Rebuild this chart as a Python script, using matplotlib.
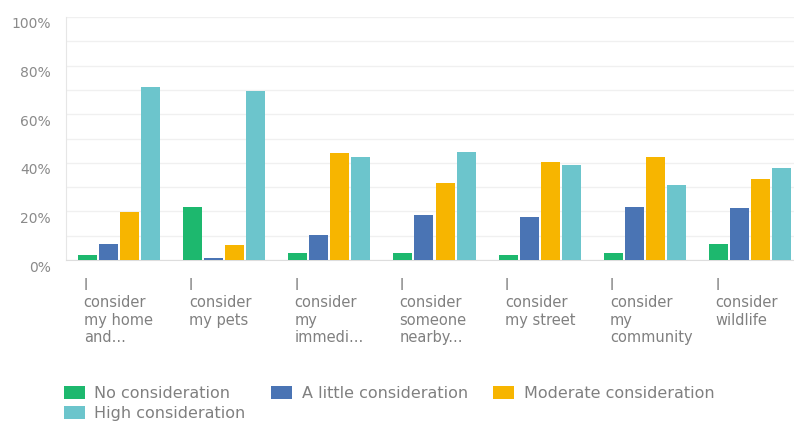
import numpy as np
import matplotlib
matplotlib.use("Agg")
import matplotlib.pyplot as plt
from matplotlib.transforms import ScaledTranslation
from matplotlib.ticker import MultipleLocator, PercentFormatter

categories = [
    "I\nconsider\nmy home\nand...",
    "I\nconsider\nmy pets",
    "I\nconsider\nmy\nimmedi...",
    "I\nconsider\nsomeone\nnearby...",
    "I\nconsider\nmy street",
    "I\nconsider\nmy\ncommunity",
    "I\nconsider\nwildlife",
]
series_names = ["No consideration", "A little consideration",
                "Moderate consideration", "High consideration"]
no_consideration = [2.0, 21.7, 3.0, 3.0, 2.0, 3.0, 6.6]
little_consideration = [6.6, 1.0, 10.2, 18.5, 17.6, 21.9, 21.3]
moderate_consideration = [19.8, 6.2, 43.9, 31.8, 40.2, 42.5, 33.3]
high_consideration = [71.3, 69.7, 42.5, 44.6, 39.2, 30.7, 37.9]
colors = ["#1db86e", "#4a74b4", "#f7b500", "#6cc5cc"]

values = [no_consideration, little_consideration,
          moderate_consideration, high_consideration]

fig = plt.figure(figsize=(7.94, 4.23), dpi=100)
ax = fig.add_axes([66 / 794, (423 - 260) / 423, 737 / 794, 243 / 423])

x = np.arange(len(categories))
pitch = 0.2
width = 0.18
bars = []
for i, (vals, name, col) in enumerate(zip(values, series_names, colors)):
    bars.append(ax.bar(x + (i - 1.5) * pitch, vals, width, color=col, label=name, zorder=3))

ax.set_xlim(-0.5, 6.5)
ax.set_ylim(0, 100)
ax.yaxis.set_major_locator(MultipleLocator(20))
ax.yaxis.set_minor_locator(MultipleLocator(10))
ax.yaxis.set_major_formatter(PercentFormatter(decimals=0))
ax.grid(axis="y", which="both", color="#f0f0f0", linewidth=1, zorder=0)
ax.tick_params(axis="y", which="both", length=0, labelsize=10,
               labelcolor="#8a8a8a", pad=11)

for s in ["top", "right"]:
    ax.spines[s].set_visible(False)
ax.spines["left"].set_color("#e6e6e6")
ax.spines["bottom"].set_color("#dddddd")

# shift y labels slightly down like the original
for lab in ax.get_yticklabels():
    lab.set_transform(lab.get_transform() + ScaledTranslation(0, -0.06, fig.dpi_scale_trans))

ax.set_xticks(x)
ax.set_xticklabels(categories, ha="left", va="top", fontsize=10.5,
                   color="#808080", linespacing=1.2)
ax.tick_params(axis="x", length=0, pad=13)
for lab in ax.get_xticklabels():
    lab.set_transform(lab.get_transform() + ScaledTranslation(-0.35, 0, fig.dpi_scale_trans))

# column-major order so row 1 reads No / A little / Moderate
order = [0, 3, 1, 2]
fig.legend([bars[i] for i in order], [series_names[i] for i in order],
           loc="upper left", bbox_to_anchor=(64 / 794, 1 - 386 / 423), ncol=3,
           frameon=False, fontsize=11.5, labelcolor="#808080",
           handlelength=1.3, handleheight=0.9, handletextpad=0.6,
           columnspacing=1.6, labelspacing=0.3, borderpad=0, borderaxespad=0)

fig.savefig("out.png", dpi=100)
